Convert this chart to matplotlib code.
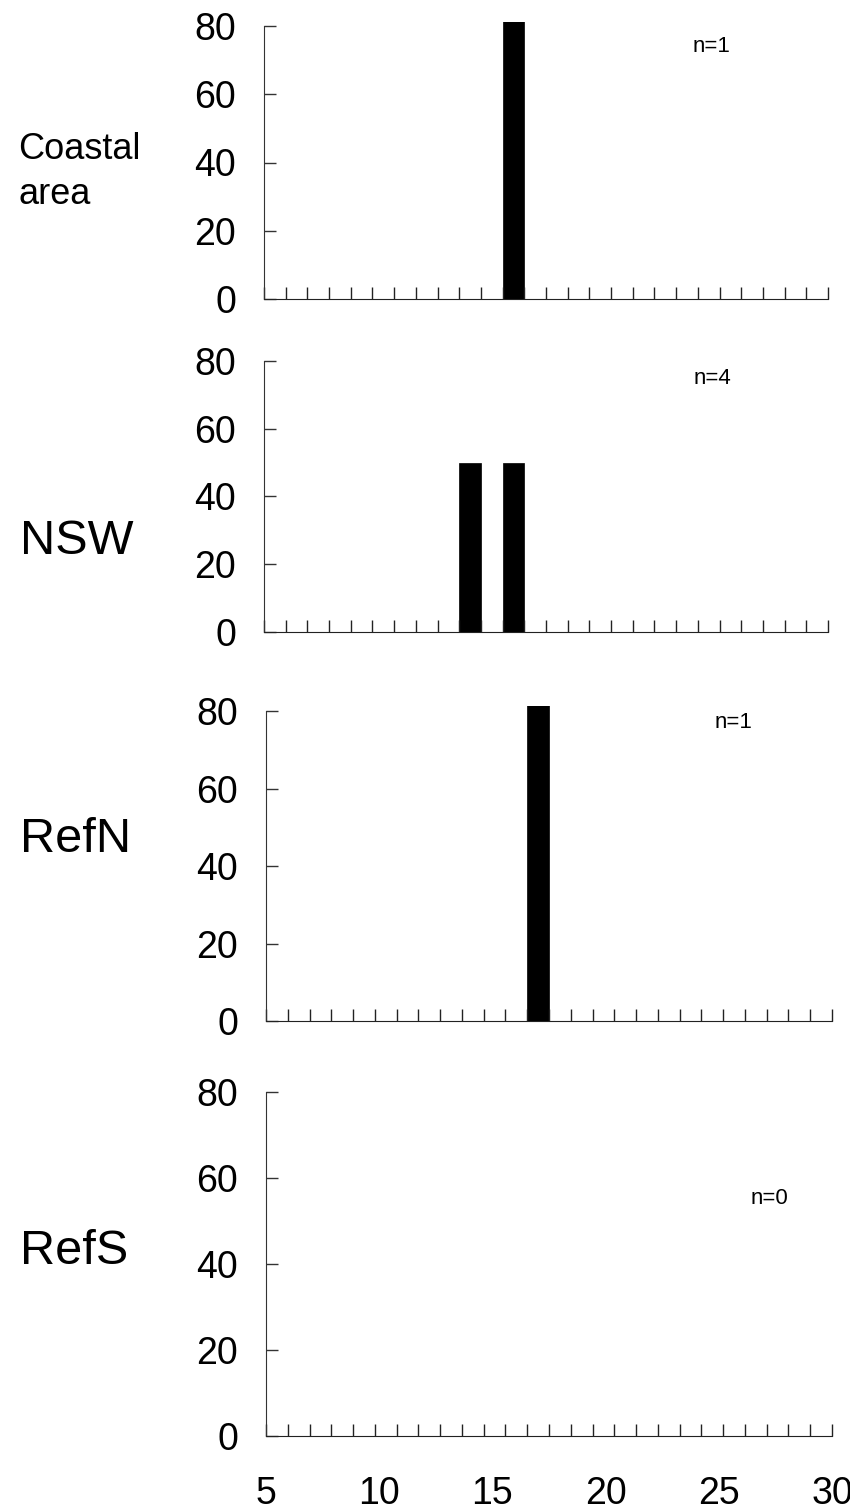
import matplotlib
matplotlib.use("Agg")
import matplotlib.pyplot as plt
import numpy as np

plt.rcParams['font.family'] = ['Liberation Sans', 'DejaVu Sans']

# categories 5..30, bar values in % (n=1 -> 100, clipped at axis top)
cats = np.arange(5, 31)
sites = ["Coastal\narea", "NSW", "RefN", "RefS"]
n_labels = ["n=1", "n=4", "n=1", "n=0"]
bar_x = [[16], [14, 16], [17], []]
bar_h = [[100], [50, 50], [100], []]
yticks = [0, 20, 40, 60, 80]
xlabels = [5, 10, 15, 20, 25, 30]

W, H = 850, 1510
fig = plt.figure(figsize=(W / 100, H / 100), dpi=100)

# pixel boxes: left, right, y of 80, y of 0, top of plot (bar clip)
boxes = [(264, 828, 26, 299, 22),
         (264, 828, 361, 632, 356),
         (266, 832, 711, 1021, 706),
         (266, 832, 1092, 1436, 1088)]
label_pos = [(18, 172), (20, 542), (20, 840), (20, 1252)]
label_size = [26, 35, 35, 35]
n_pos = [(712, 47), (712, 378), (734, 722), (769, 1198)]

for i, (l, r, y80, y0, ytop) in enumerate(boxes):
    ax = fig.add_axes([l / W, 1 - y0 / H, (r - l) / W, (y0 - ytop) / H])
    top = 80 * (y0 - ytop) / (y0 - y80)
    ax.bar(bar_x[i], bar_h[i], width=1.0, color='black', edgecolor='black', linewidth=0.5)
    ax.set_xlim(4.5, 30.5)
    ax.set_ylim(0, top)
    ax.spines['top'].set_visible(False)
    ax.spines['right'].set_visible(False)
    ax.spines['left'].set_bounds(0, 80)
    ax.spines['left'].set_color('#333333')
    ax.spines['bottom'].set_color('#222222')
    ax.set_xticks(np.arange(4.5, 31, 1))
    ax.tick_params(axis='x', direction='in', length=8.5, width=1, color='#222222', labelbottom=False)
    ax.set_yticks(yticks)
    ax.tick_params(axis='y', direction='in', length=8.5, width=1, color='#333333', labelsize=27, pad=20)
    ax.text(n_pos[i][0] / W, 1 - n_pos[i][1] / H, n_labels[i], transform=fig.transFigure,
            ha='center', va='center', fontsize=16)
    fig.text(label_pos[i][0] / W, 1 - label_pos[i][1] / H, sites[i], ha='left', va='center',
             fontsize=label_size[i], linespacing=1.4)
    if i == 3:
        sec = ax.twiny()
        sec.set_xlim(5, 30)
        sec.set_xticks(xlabels)
        sec.xaxis.set_ticks_position('bottom')
        sec.xaxis.set_label_position('bottom')
        sec.tick_params(axis='x', length=0, labelsize=27, pad=29)
        for s in sec.spines.values():
            s.set_visible(False)

fig.savefig("out.png", dpi=100)
